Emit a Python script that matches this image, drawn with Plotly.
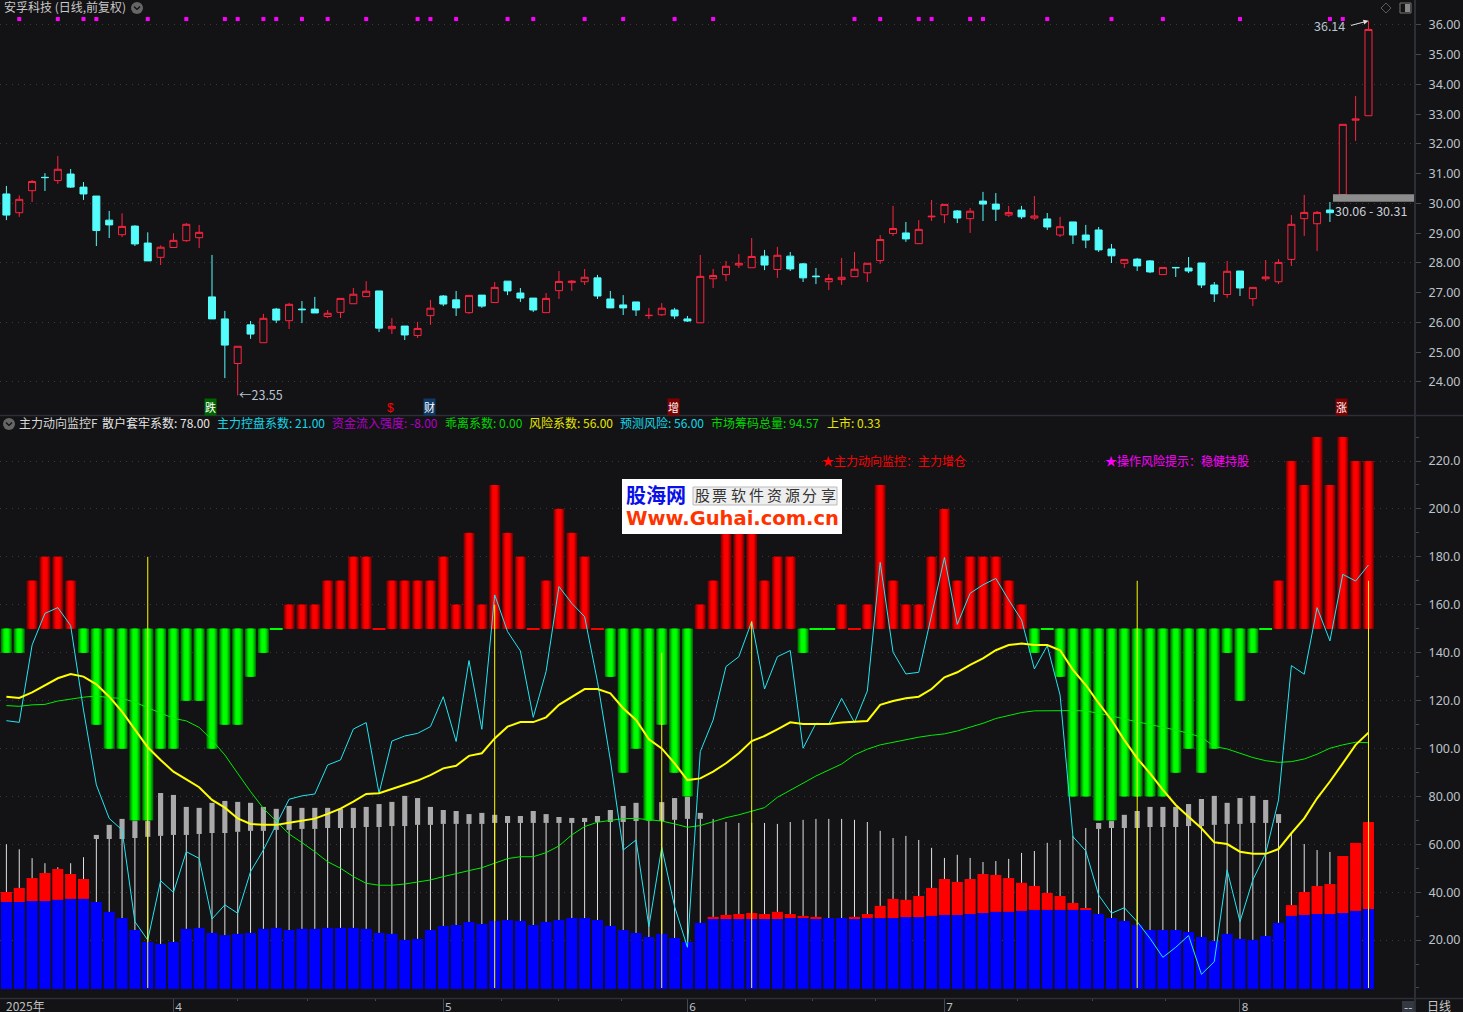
import plotly.graph_objects as go

W, H, PW = 1463, 1012, 1415
BG = "#131214"
CJK = "Noto Sans CJK SC"

opens = [30.32,29.69,30.43,30.88,30.77,30.99,30.55,30.25,29.44,28.95,29.24,28.67,28.19,28.52,28.75,28.85,26.86,26.12,24.62,25.92,25.32,26.45,26.06,26.45,26.45,26.20,26.34,26.63,26.87,27.06,25.79,25.88,25.56,26.23,26.89,26.76,26.33,26.92,26.67,27.39,26.99,26.82,26.33,27.07,27.34,27.37,27.50,26.79,26.59,26.69,26.23,26.26,26.42,26.12,25.99,27.47,27.61,27.93,27.84,28.23,27.78,28.23,27.97,27.56,27.37,27.44,27.54,27.67,28.08,28.99,29.01,28.65,29.55,29.62,29.75,29.49,30.08,29.98,29.61,29.78,29.51,29.48,28.94,29.38,28.94,29.11,28.47,27.99,28.13,28.07,27.61,27.85,27.83,28.00,27.26,26.94,27.73,26.80,27.47,27.37,28.12,29.49,29.32,29.78,30.30,32.80,32.95]
highs = [30.59,30.27,30.79,31.02,31.60,31.16,30.72,30.25,29.75,29.67,29.27,29.03,28.59,29.00,29.34,29.28,28.27,26.39,25.20,26.05,26.29,26.49,26.66,26.72,26.86,26.42,26.81,27.16,27.39,27.06,26.15,25.88,26.02,26.76,26.92,27.06,26.91,26.92,27.36,27.39,27.16,26.82,26.99,27.73,27.43,27.80,27.60,27.06,26.92,26.69,26.49,26.65,26.49,26.22,28.27,27.80,28.07,28.30,28.84,28.44,28.54,28.37,28.00,27.83,27.63,28.17,28.37,27.99,28.94,29.92,29.38,29.44,30.12,29.97,29.78,29.85,30.39,30.35,29.92,29.92,30.25,29.68,29.55,29.38,29.28,29.21,28.64,28.12,28.17,28.10,27.85,27.85,28.20,28.00,27.36,28.07,27.73,27.18,28.10,28.13,29.61,30.29,29.75,30.05,32.66,33.61,36.14]
lows = [29.44,29.55,30.05,30.42,30.66,30.52,30.12,28.57,28.84,28.87,28.57,28.07,27.93,28.52,28.71,28.50,26.12,24.13,23.55,25.45,25.32,25.98,25.78,25.98,26.32,26.15,26.15,26.63,26.87,25.68,25.61,25.41,25.48,25.92,26.55,26.22,26.29,26.49,26.67,26.92,26.69,26.35,26.33,26.79,27.06,27.26,26.79,26.49,26.25,26.22,26.12,26.22,26.12,26.02,25.99,27.16,27.39,27.83,27.84,27.76,27.50,27.73,27.36,27.29,27.09,27.26,27.54,27.36,27.97,28.91,28.71,28.65,29.41,29.34,29.34,29.01,29.41,29.41,29.55,29.48,29.44,29.11,28.87,28.64,28.50,28.37,28.00,27.83,27.73,27.66,27.61,27.53,27.66,27.16,26.69,26.83,26.89,26.55,27.39,27.29,27.90,28.91,28.40,29.38,30.30,32.10,32.95]
closes = [29.61,30.14,30.74,30.87,31.15,30.55,30.32,29.09,29.28,29.23,28.64,28.07,28.53,28.76,29.30,29.03,26.12,25.24,25.20,25.61,26.14,26.08,26.61,26.43,26.32,26.31,26.81,26.95,27.05,25.81,25.87,25.58,25.80,26.48,26.62,26.49,26.91,26.55,27.18,27.06,26.82,26.42,26.81,27.38,27.39,27.52,26.89,26.49,26.49,26.42,26.24,26.48,26.22,26.05,27.55,27.58,27.89,27.99,28.22,27.93,28.26,27.80,27.50,27.54,27.48,27.52,27.79,27.99,28.79,29.16,28.81,29.13,29.57,29.97,29.51,29.74,29.98,29.81,29.70,29.55,29.58,29.21,29.22,28.94,28.77,28.44,28.24,28.12,27.90,27.70,27.85,27.84,27.73,27.26,26.96,27.72,27.16,27.18,27.53,28.02,29.30,29.70,29.70,29.69,32.66,32.84,35.85]

signal = [140,140,170,180,180,170,140,110,100,100,70,70,100,100,120,120,100,110,110,130,140,150,160,160,160,170,170,180,180,150,170,170,170,170,180,160,190,160,210,190,180,150,170,200,190,180,150,130,90,100,70,110,90,80,160,170,200,200,200,170,180,180,140,150,150,160,150,160,210,170,160,160,180,200,170,180,180,180,170,160,140,150,130,80,80,70,70,80,80,80,80,90,100,90,100,140,120,140,150,170,220,210,230,210,230,220,220]

blue_chips = [35.9,35.9,36.3,36.3,36.8,37.2,37.2,35.9,31.8,29.2,24.2,19.2,18.4,19.2,24.7,25.1,23.0,22.1,22.6,23.0,24.7,25.1,24.2,24.7,24.7,25.1,25.1,25.1,24.7,23.0,22.6,20.1,20.5,24.2,25.9,26.3,27.6,26.7,28.0,28.4,28.0,26.3,27.6,28.4,29.2,29.2,28.4,25.9,24.2,23.0,21.3,22.6,20.9,19.2,27.2,28.8,28.8,28.8,28.8,28.8,28.8,29.2,29.2,29.2,29.2,29.2,29.2,29.2,29.2,29.2,29.6,29.6,30.1,30.5,30.5,30.9,31.3,31.8,31.8,32.2,32.6,32.6,32.6,32.6,32.6,30.9,29.2,28.0,26.3,24.2,24.2,24.2,23.4,21.3,19.6,22.6,20.5,20.1,21.7,27.2,30.1,30.5,30.9,30.9,31.3,32.2,33.0]
N = None
red_chips = [40.1,41.8,45.9,48.0,49.7,47.6,45.5]+[N]*48+[29.7,30.5,30.9,31.3,30.9,31.8,30.9,30.1,29.7,N,N,29.7,30.9,34.3,37.2,36.8,38.4,41.8,45.5,44.3,45.5,47.6,47.2,45.9,43.9,42.6,39.7,38.4,35.5,33.4]+[N]*15+[34.6,40.1,42.6,43.4,55.1,60.6,69.3]
white_top = [60.0,57.9,54.2,52.1,50.4,52.1,54.6,62.2,62.2,62.2,62.6,63.1,63.5,63.9,63.9,64.3,64.7,64.7,65.2,65.6,65.6,66.0,66.0,66.4,66.4,66.8,66.8,66.8,67.2,67.2,67.6,67.6,68.1,68.1,68.5,68.5,68.5,68.5,68.9,68.9,68.9,68.9,68.9,68.9,68.9,69.3,69.3,69.3,69.3,69.7,69.7,69.7,70.2,70.6,70.6,70.6,69.3,68.9,68.9,68.9,68.5,69.3,70.2,70.6,70.6,70.6,70.2,69.3,65.6,62.6,63.5,61.8,58.5,54.3,55.6,54.3,52.6,53.0,53.9,56.4,57.2,60.6,61.8,63.5,66.8,66.4,66.8,66.8,66.8,67.2,67.2,67.2,67.6,67.6,68.1,68.5,68.5,68.9,68.9,68.9,64.3,60.1,57.6,56.8,N,N,N]
grey_top = [N]*7+[63.9,68.1,70.6,69.7,69.7,81.4,80.6,75.6,75.2,77.3,78.1,77.7,77.3,75.6,74.8,76.0,75.2,75.2,75.2,74.8,75.2,75.6,76.8,77.7,80.2,79.3,75.6,74.3,73.9,72.6,73.1,72.3,71.8,71.8,73.9,72.6,71.4,71.0,71.0,71.8,74.3,76.0,77.3,79.6,77.6,79.3,79.8,73.1]+[N]*30+[68.9,69.7,72.3,73.9,75.6,75.6,75.6,76.8,78.9,80.2,77.3,79.3,80.2,78.5,72.6]+[N]*7

yellow_line = [121.6,121.1,123.4,126.2,129.3,131.1,130.0,126.8,121.6,115.4,107.7,100.5,95.2,90.3,87.1,83.8,78.5,75.3,70.8,68.5,68.1,68.1,69.0,69.9,70.7,72.7,74.9,77.8,81.0,81.3,83.1,84.9,86.6,88.9,91.7,92.8,96.9,98.0,104.2,109.1,111.0,111.0,113.0,118.2,121.6,124.8,124.8,123.0,116.8,111.9,103.8,100.0,93.8,86.8,87.5,90.3,93.8,98.0,103.1,105.2,108.0,110.9,110.2,110.2,110.2,110.8,111.0,111.5,118.2,119.8,121.0,121.6,124.8,129.7,131.8,134.9,137.6,141.0,143.2,143.8,143.2,143.2,141.0,132.8,126.5,118.9,111.9,103.5,95.9,89.6,82.7,76.4,71.5,66.7,60.8,60.1,56.9,56.0,56.0,58.0,64.6,70.8,79.2,86.2,93.8,101.5,106.6]
green_line = [117.9,117.6,118.2,118.4,119.8,120.7,121.4,121.9,121.2,120.9,119.3,117.0,114.7,112.6,111.5,108.8,103.5,97.3,89.6,82.0,75.0,69.5,64.3,60.7,56.9,52.7,50.0,46.5,43.7,42.9,42.9,43.4,44.1,45.1,46.5,47.9,49.0,50.2,52.0,54.0,54.8,54.8,56.5,59.3,63.9,67.4,69.2,70.1,70.7,70.8,70.1,69.7,68.5,67.1,67.8,69.5,71.1,72.3,73.9,75.3,79.6,82.7,85.5,88.5,91.0,93.5,97.3,99.7,101.5,102.6,103.8,104.7,105.5,106.1,107.3,108.8,110.5,112.5,113.7,115.0,115.7,115.8,115.8,115.8,115.7,114.7,113.6,112.3,111.2,110.1,108.8,107.7,106.3,104.7,100.8,99.8,98.0,96.2,94.9,94.2,94.5,95.6,97.6,100.1,101.5,102.6,102.4]
cyan_line = [111.6,110.9,143.2,156.4,158.8,151.3,116.0,84.8,70.8,66.0,27.7,20.0,44.8,39.9,56.9,54.1,28.8,34.7,31.2,48.6,57.6,68.1,78.8,80.2,81.0,93.1,95.2,108.1,110.8,81.3,103.1,105.2,106.3,109.1,121.6,102.9,136.7,108.0,164.1,148.8,140.7,113.0,132.1,167.6,160.6,155.0,127.9,95.2,57.6,61.8,25.6,58.7,34.0,17.0,98.7,111.9,134.2,138.3,153.0,124.8,138.3,140.9,100.1,110.5,110.2,120.9,110.8,124.0,177.7,140.2,131.1,131.8,156.4,179.7,151.8,164.8,168.3,171.0,162.0,153.7,133.2,142.9,122.3,63.2,57.2,38.8,31.2,33.5,27.7,20.7,12.8,17.0,21.9,5.7,11.0,49.3,27.7,45.1,56.2,78.5,134.6,131.0,158.8,144.9,172.7,169.9,176.6]

yellow_idx = [11,38,51,58,88,106]
yellow_top = [180,160,140,153,170,170]
dot_idx = [1,4,6,7,11,14,17,18,20,21,23,25,28,32,33,35,39,41,45,48,52,55,66,68,71,72,75,76,81,86,90,96,103,104]
DOT_PRICE = 36.2

price_ticks = list(range(24,37))
sig_ticks = [20,40,60,80,100,120,140,160,180,200,220]
sig_labels = ["20.00","40.00","60.00","80.00","100.0","120.0","140.0","160.0","180.0","200.0","220.0"]
month_idx = [13,34,53,73,96]
month_labels = ["4","5","6","7","8"]
minor_idx = [18,23.4,28.7,38.5,43,47.9,57.5,62.7,67.6,78.7,84.5,90.2]

idx = list(range(len(opens)))
assert all(len(a)==107 for a in [opens,highs,lows,closes,signal,blue_chips,red_chips,white_top,grey_top,yellow_line,green_line,cyan_line])

fig = go.Figure()
fig.add_trace(go.Candlestick(x=idx,open=opens,high=highs,low=lows,close=closes,xaxis="x",yaxis="y",
    increasing=dict(line=dict(color="#FF2440",width=1),fillcolor=BG),
    decreasing=dict(line=dict(color="#54FCFC",width=1),fillcolor="#54FCFC"),showlegend=False,hoverinfo="skip"))
fig.add_trace(go.Scatter(x=dot_idx,y=[DOT_PRICE]*len(dot_idx),mode="markers",xaxis="x",yaxis="y",
    marker=dict(symbol="square",size=4,color="#FF00FF"),showlegend=False,hoverinfo="skip"))

stack=[red_chips[i] if red_chips[i] is not None else blue_chips[i] for i in idx]
wx=[i for i in idx if white_top[i] is not None]
xs,ys=[],[]
for i in wx:
    xs+=[i,i,None]; ys+=[stack[i],white_top[i],None]
fig.add_trace(go.Scatter(x=xs,y=ys,mode="lines",line=dict(color="#E0E0E0",width=1),xaxis="x2",yaxis="y2",showlegend=False,hoverinfo="skip"))
gy=[i for i in idx if grey_top[i] is not None]
fig.add_trace(go.Bar(x=gy,y=[grey_top[i]-white_top[i] for i in gy],base=[white_top[i] for i in gy],width=0.4,marker=dict(color="#A9A9A9",line=dict(width=0)),xaxis="x2",yaxis="y2",showlegend=False,hoverinfo="skip"))

# signal columns: stacked narrowing layers give the cylinder shading
REDS = ["#780000","#a20000","#cc0000","#ee0000","#ff0000"]
GREENS = ["#007800","#00a200","#00cc00","#00ee00","#00ff00"]
LAYER_W = [0.86,0.72,0.56,0.42,0.28]
rx=[i for i in idx if signal[i]>150]; gx=[i for i in idx if signal[i]<150]
for w,c in zip(LAYER_W,REDS):
    fig.add_trace(go.Bar(x=rx,y=[signal[i]-150 for i in rx],base=150,width=w,marker=dict(color=c,line=dict(width=0)),xaxis="x2",yaxis="y2",showlegend=False,hoverinfo="skip"))
for w,c in zip(LAYER_W,GREENS):
    fig.add_trace(go.Bar(x=gx,y=[signal[i]-150 for i in gx],base=150,width=w,marker=dict(color=c,line=dict(width=0)),xaxis="x2",yaxis="y2",showlegend=False,hoverinfo="skip"))
# flat days: thin baseline in the colour of the previous run
fr,fg=[],[]
last=None
for i in idx:
    if signal[i]>150: last="r"
    elif signal[i]<150: last="g"
    else: (fr if last=="r" else fg).append(i)
for fx,c in ((fr,"#ff0000"),(fg,"#00ff00")):
    fig.add_trace(go.Bar(x=fx,y=[0.5]*len(fx),base=149.8,width=1,marker=dict(color=c,line=dict(width=0)),xaxis="x2",yaxis="y2",showlegend=False,hoverinfo="skip"))

fig.add_trace(go.Bar(x=idx,y=[blue_chips[i]+0.4 for i in idx],base=-0.4,width=0.86,marker=dict(color="#0000FF",line=dict(width=0)),xaxis="x2",yaxis="y2",showlegend=False,hoverinfo="skip"))
ry=[i for i in idx if red_chips[i] is not None]
fig.add_trace(go.Bar(x=ry,y=[red_chips[i]-blue_chips[i] for i in ry],base=[blue_chips[i] for i in ry],width=0.86,marker=dict(color="#FF0000",line=dict(width=0)),xaxis="x2",yaxis="y2",showlegend=False,hoverinfo="skip"))

fig.add_trace(go.Scatter(x=idx,y=green_line,mode="lines",line=dict(color="#00EE00",width=1),xaxis="x2",yaxis="y2",showlegend=False,hoverinfo="skip"))
fig.add_trace(go.Scatter(x=idx,y=cyan_line,mode="lines",line=dict(color="#22E6F0",width=1),xaxis="x2",yaxis="y2",showlegend=False,hoverinfo="skip"))
fig.add_trace(go.Scatter(x=idx,y=yellow_line,mode="lines",line=dict(color="#FFFF00",width=2),xaxis="x2",yaxis="y2",showlegend=False,hoverinfo="skip"))
xs,ys=[],[]
for i,t in zip(yellow_idx,yellow_top):
    xs+=[i,i,None]; ys+=[0,t,None]
fig.add_trace(go.Scatter(x=xs,y=ys,mode="lines",line=dict(color="#FFFF00",width=1),xaxis="x2",yaxis="y2",showlegend=False,hoverinfo="skip"))

px=lambda x:x/PW
py=lambda y:1-y/H
anns=[]
def label(x,y,text,color,size=12,family=CJK,anchor="left",bg=None,**kw):
    d=dict(x=px(x),y=py(y),xref="paper",yref="paper",text=text,showarrow=False,xanchor=anchor,yanchor="middle",
           font=dict(family=family,size=size,color=color),borderpad=0)
    if bg: d["bgcolor"]=bg
    d.update(kw); anns.append(d)

label(3,7,"安孚科技 (日线,前复权)","#C8C8C8")
label(18,423,"主力动向监控F","#D8D8D8")
label(101,423,"散户套牢系数: 78.00","#E6E6E6")
label(216,423,"主力控盘系数: 21.00","#12D8E8")
label(331,423,"资金流入强度: -8.00","#B000C8")
label(444,423,"乖离系数: 0.00","#00D800")
label(528,423,"风险系数: 56.00","#E6E600")
label(619,423,"预测风险: 56.00","#12D8E8")
label(710,423,"市场筹码总量: 94.57","#00D800")
label(826,423,"上市: 0.33","#E6E600")
label(821,460,"★主力动向监控：主力增仓","#FF0000")
label(1104,460,"★操作风险提示：稳健持股","#FF00FF")
label(238,394,"←23.55","#B8C4D0",size=12.5)
label(1313,26,"36.14","#B8C4D0",size=12.5)
label(1334,210,"30.06 - 30.31","#C8D0D8",size=12.5)
label(5,1005,"2025年","#C0C0C0")
label(1426,1005,"日线","#C8C8C8")
label(1408,1006,"--","#D0D0D0",anchor="center")
for i,t,bg,c in ((16,"跌","#006400","#FFFFFF"),(33,"财","#103A66","#FFFFFF"),(52,"增","#800000","#FFFFFF"),(104,"涨","#800000","#FFFFFF")):
    label(6.4+12.85*i-1,407,t,c,size=11,anchor="center",bg=bg)
label(390,408,"$","#FF0000",size=12,anchor="center",family="Liberation Sans")
anns.append(dict(x=106,y=36.14,xref="x",yref="y",text="",showarrow=True,ax=-19,ay=5,arrowhead=2,arrowsize=1,arrowwidth=1,arrowcolor="#E0E0E0"))
# logo
label(625,495,"<b>股海网</b>","#0A10E8",size=20)
for k,ch in enumerate("股票软件资源分享"):
    label(702+k*18,495,ch,"#333333",size=15,anchor="center",family="Noto Sans CJK SC")
label(625,518,"<b>Www.Guhai.com.cn</b>","#FF3300",size=19.5,family="DejaVu Sans")

LINE="#2C2F38"
rect=lambda x0,y0,x1,y1,**k:dict(type="rect",xref="paper",yref="paper",x0=px(x0),x1=px(x1),y0=py(y0),y1=py(y1),**k)
shapes=[
 dict(type="rect",xref="paper",yref="y",x0=px(1333),x1=px(1414),y0=30.06,y1=30.31,fillcolor="#8C8C8C",line=dict(width=0),layer="above"),
 rect(622,479,842,534,fillcolor="#FFFFFF",line=dict(width=0),layer="above"),
 rect(693,487,837,505,fillcolor="#EEEEEE",line=dict(color="#BBBBBB",width=1),layer="above"),
 dict(type="line",xref="paper",yref="paper",x0=px(1415),x1=px(1415),y0=0,y1=1,line=dict(color=LINE,width=2),layer="above"),
 dict(type="line",xref="paper",yref="paper",x0=0,x1=1.04,y0=py(415.5),y1=py(415.5),line=dict(color=LINE,width=1.5),layer="above"),
 dict(type="line",xref="paper",yref="paper",x0=0,x1=1.04,y0=py(998.5),y1=py(998.5),line=dict(color=LINE,width=1.5),layer="above"),
 rect(1402,1001,1414,1012,fillcolor="#333842",line=dict(width=0),layer="above"),
 dict(type="circle",xref="paper",yref="paper",x0=px(131),x1=px(143),y0=py(2),y1=py(14),fillcolor="#666666",line=dict(width=0),layer="above"),
 dict(type="circle",xref="paper",yref="paper",x0=px(3),x1=px(15),y0=py(418),y1=py(430),fillcolor="#666666",line=dict(width=0),layer="above"),
 dict(type="line",xref="paper",yref="paper",x0=px(134),x1=px(137),y0=py(6.5),y1=py(9.5),line=dict(color="#111111",width=1.2),layer="above"),
 dict(type="line",xref="paper",yref="paper",x0=px(137),x1=px(140),y0=py(9.5),y1=py(6.5),line=dict(color="#111111",width=1.2),layer="above"),
 dict(type="line",xref="paper",yref="paper",x0=px(6),x1=px(9),y0=py(422.5),y1=py(425.5),line=dict(color="#111111",width=1.2),layer="above"),
 dict(type="line",xref="paper",yref="paper",x0=px(9),x1=px(12),y0=py(425.5),y1=py(422.5),line=dict(color="#111111",width=1.2),layer="above"),
 dict(type="path",xref="paper",yref="paper",path=f"M {px(1386)} {py(3)} L {px(1391)} {py(8)} L {px(1386)} {py(13)} L {px(1381)} {py(8)} Z",fillcolor="rgba(0,0,0,0)",line=dict(color="#5A5A5A",width=1),layer="above"),
 rect(1400,3,1411,13,fillcolor="rgba(0,0,0,0)",line=dict(color="#777777",width=1),layer="above"),
 rect(1405,4,1410,12,fillcolor="#888888",line=dict(width=0),layer="above"),
]

TICK_FONT=dict(family="Noto Sans",size=12.5,color="#BCC4CC")
GRID="#3A3A3E"
fig.update_layout(
  width=W,height=H,margin=dict(l=0,r=W-PW,t=0,b=0,autoexpand=False),paper_bgcolor=BG,plot_bgcolor=BG,
  barmode="overlay",boxgap=0.22,showlegend=False,hovermode=False,annotations=anns,shapes=shapes,
  xaxis=dict(domain=[0,1],range=[-0.498,109.62],visible=False,anchor="y",rangeslider=dict(visible=False)),
  xaxis2=dict(domain=[0,1],range=[-0.498,109.62],anchor="y2",showgrid=False,zeroline=False,showline=False,
     tickmode="array",tickvals=month_idx,ticktext=month_labels,ticks="outside",ticklen=13,tickcolor="#444850",tickwidth=1,
     tickfont=dict(family="Noto Sans",size=11.5,color="#BCC4CC"),ticklabelshift=5,ticklabelstandoff=-15,
     minor=dict(tickvals=minor_idx,ticks="outside",ticklen=2,tickcolor="#444850",showgrid=False)),
  yaxis=dict(domain=[1-415/H,1],range=[22.89,36.84],anchor="x",side="right",showgrid=False,zeroline=False,showline=False,
     tickmode="array",tickvals=price_ticks,ticktext=[f"{v:.2f}" for v in price_ticks],ticks="outside",ticklen=5,tickcolor="#444850",
     tickfont=TICK_FONT,ticklabelstandoff=5,
     minor=dict(tickvals=list(range(24,37,2)),showgrid=True,gridcolor=GRID,griddash="1px,5px",gridwidth=1,ticks="")),
  yaxis2=dict(domain=[14/H,1-416/H],range=[-4.18,238.8],anchor="x2",side="right",showgrid=True,gridcolor=GRID,griddash="1px,5px",gridwidth=1,zeroline=False,showline=False,
     tickmode="array",tickvals=sig_ticks,ticktext=sig_labels,ticks="outside",ticklen=5,tickcolor="#444850",
     tickfont=TICK_FONT,ticklabelstandoff=5,
     minor=dict(dtick=10,tick0=0,ticks="outside",ticklen=3,tickcolor="#444850",showgrid=False)),
)
fig.write_html("out.html",config=dict(displayModeBar=False),post_script="document.body.style.margin='0';document.documentElement.style.background='%s';document.body.style.overflow='hidden';"%BG)
